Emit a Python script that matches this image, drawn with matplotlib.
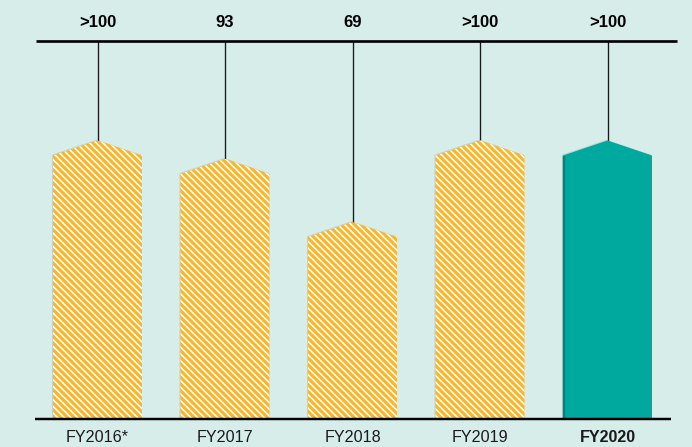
import matplotlib.pyplot as plt
from matplotlib.patches import Polygon

# chart data
years = ["FY2016*", "FY2017", "FY2018", "FY2019", "FY2020"]
values = [100, 93, 69, 100, 100]  # bar heights (>100 capped at 100)
labels = [">100", "93", "69", ">100", ">100"]
highlight = [False, False, False, False, True]

bg = "#d6edea"
orange = "#fbb526"
teal = "#00a99d"
teal_dark = "#00867b"

plt.rcParams["font.family"] = ["Liberation Sans", "DejaVu Sans"]
plt.rcParams["hatch.linewidth"] = 1.45

W, H, DPI = 692, 447, 80
fig = plt.figure(figsize=(W / DPI, H / DPI), dpi=DPI, facecolor=bg)

left, right, top, base = 35, 677, 40.5, 418.5
ax = fig.add_axes([left / W, (H - base) / H, (right - left) / W, (base - top) / H])
ax.set_facecolor(bg)

spacing = 127.5
px_per_unit = 2.63
ax.set_xlim((left - 97.5) / spacing, 4 + (right - 607.5) / spacing)
ax.set_ylim(0, (base - top) / px_per_unit)
ymax = ax.get_ylim()[1]

width = 89 / spacing
peak = 15 / px_per_unit

for i, (v, hl) in enumerate(zip(values, highlight)):
    x0, x1 = i - width / 2, i + width / 2
    pts = [(x0, 0), (x0, v), (i, v + peak), (x1, v), (x1, 0)]
    # faint shadow along the left / top edge
    shadow = Polygon([(px - 0.008, py + 0.3) for px, py in pts], closed=True,
                     facecolor="#8a9a98", alpha=0.3, edgecolor="none", zorder=2)
    ax.add_patch(shadow)
    if hl:
        ax.add_patch(Polygon(pts, closed=True, facecolor=teal, edgecolor="none", zorder=3))
        ax.plot([x0 + 0.008, x0 + 0.008], [0, v], color=teal_dark, lw=2.2, zorder=4,
                solid_capstyle="butt")
    else:
        ax.add_patch(Polygon(pts, closed=True, facecolor=orange, edgecolor="white",
                             linewidth=0, hatch="\\\\\\\\", zorder=3))
    ax.plot([i, i], [v + peak, ymax], color="#1a1a1a", lw=1.2, zorder=1)
    ax.text(i, ymax + 18 / px_per_unit, labels[i], ha="center", va="center",
            fontsize=15, fontweight="bold", color="black")
    ax.text(i, -18.5 / px_per_unit, years[i], ha="center", va="center",
            fontsize=14.5, fontweight="bold" if hl else "normal", color="#1a1a1a")

# top and bottom rules
ax.plot([0.0015, 1], [1, 1], transform=ax.transAxes, color="black", lw=2.4,
        solid_capstyle="butt", clip_on=False, zorder=5)
ax.plot([0, (671 - left) / (right - left)], [0, 0], transform=ax.transAxes,
        color="black", lw=2.2, solid_capstyle="butt", clip_on=False, zorder=5)

ax.axis("off")
fig.savefig("out.png", dpi=DPI, facecolor=bg)
